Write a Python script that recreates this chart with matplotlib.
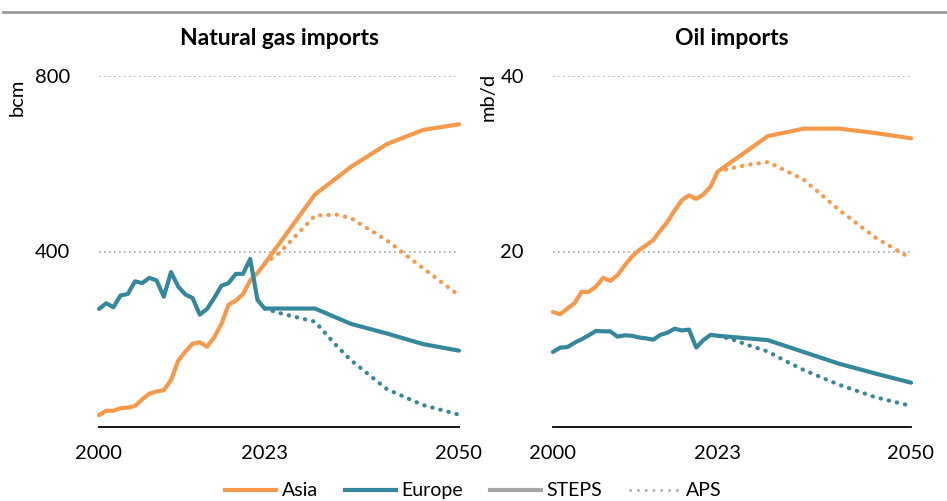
import matplotlib.pyplot as plt
from matplotlib.lines import Line2D

plt.rcParams['font.family'] = ['Lato', 'DejaVu Sans']

ORANGE = '#F7994A'
TEAL = '#35889B'
GREY = '#A6A6A6'

hist_years = list(range(2000, 2024))

# natural gas imports, bcm
gas_asia_hist = [27, 37, 37, 43, 44, 48, 63, 76, 81, 84, 107, 151, 172, 190, 193, 183,
                 204, 235, 279, 288, 303, 334, 351, 372]
gas_europe_hist = [269, 282, 273, 300, 303, 332, 328, 340, 334, 297, 353, 320, 302, 294,
                   256, 269, 294, 322, 328, 349, 349, 383, 290, 270]

proj_years = [2023, 2030, 2035, 2040, 2045, 2050]
gas_asia_steps = [372, 530, 593, 645, 677, 690]
gas_europe_steps = [270, 270, 235, 213, 189, 174]

aps_years = [2023, 2025, 2027, 2030, 2033, 2035, 2040, 2045, 2050]
gas_asia_aps = [372, 396, 430, 482, 484, 476, 425, 362, 300]
gas_europe_aps = [270, 260, 252, 240, 185, 152, 86, 50, 28]

# oil imports, mb/d
oil_asia_hist = [13.1, 12.85, 13.5, 14.1, 15.4, 15.4, 16.0, 17.0, 16.65, 17.3, 18.4, 19.4,
                 20.15, 20.7, 21.3, 22.4, 23.4, 24.7, 25.85, 26.4, 26.0, 26.5, 27.4, 29.1]
oil_europe_hist = [8.55, 9.05, 9.1, 9.6, 10.0, 10.45, 10.95, 10.9, 10.9, 10.3, 10.45, 10.4,
                   10.2, 10.1, 9.95, 10.5, 10.75, 11.2, 11.0, 11.1, 9.05, 9.9, 10.5, 10.4]

oil_asia_steps = [29.1, 33.15, 34.0, 34.0, 33.5, 32.9]
oil_europe_steps = [10.4, 9.9, 8.55, 7.2, 6.1, 5.05]

oil_asia_aps = [29.1, 29.5, 29.85, 30.2, 29.0, 28.2, 24.7, 21.6, 19.2]
oil_europe_aps = [10.4, 10.0, 9.4, 8.6, 7.3, 6.5, 4.8, 3.4, 2.4]

panels = [
    ("Natural gas imports", "bcm", 800, gas_asia_hist, gas_europe_hist,
     gas_asia_steps, gas_europe_steps, gas_asia_aps, gas_europe_aps),
    ("Oil imports", "mb/d", 40, oil_asia_hist, oil_europe_hist,
     oil_asia_steps, oil_europe_steps, oil_asia_aps, oil_europe_aps),
]

W, H = 947, 501
fig = plt.figure(figsize=(W / 100, H / 100), dpi=100)

axes_px = [(99, 459), (553, 911)]
label_x = [17, 488]
bottom_px, top_px = 427, 76

dots = (0, (0.1, 1.9))

for (left, right), lx, panel in zip(axes_px, label_x, panels):
    title, unit, ymax, a_hist, e_hist, a_steps, e_steps, a_aps, e_aps = panel
    ax = fig.add_axes([left / W, 1 - bottom_px / H, (right - left) / W, (bottom_px - top_px) / H])

    ax.plot(aps_years, a_aps, color=ORANGE, lw=3, ls=dots, dash_capstyle='round', clip_on=False)
    ax.plot(aps_years, e_aps, color=TEAL, lw=3, ls=dots, dash_capstyle='round', clip_on=False)
    ax.plot(hist_years + proj_years[1:], a_hist + a_steps[1:], color=ORANGE, lw=3,
            solid_joinstyle='round', solid_capstyle='round', clip_on=False)
    ax.plot(hist_years + proj_years[1:], e_hist + e_steps[1:], color=TEAL, lw=3,
            solid_joinstyle='round', solid_capstyle='round', clip_on=False)

    ax.set_xlim(2000, 2050)
    ax.set_ylim(0, ymax)
    ax.set_xticks([2000, 2023, 2050])
    ax.set_yticks([ymax / 2, ymax])
    ax.set_yticklabels([f"{ymax // 2:g}", f"{ymax:g}"])
    ax.tick_params(length=0, labelsize=14.5)
    ax.tick_params(axis='y', pad=21)
    ax.tick_params(axis='x', pad=13)
    for s in ['top', 'right', 'left']:
        ax.spines[s].set_visible(False)
    ax.spines['bottom'].set_linewidth(1.3)
    ax.spines['bottom'].set_color('black')
    ax.grid(axis='y', color=GREY, lw=1.2, ls=(0, (1, 2)))
    ax.set_axisbelow(True)
    ax.set_title(title, fontsize=16.5, fontweight='bold', pad=22)
    fig.text(lx / W, 1 - 97 / H, unit, rotation=90, ha='center', va='center', fontsize=14.5)

fig.add_artist(Line2D([3 / W, 1], [1 - 12 / H, 1 - 12 / H], color='#999999', lw=2))

handles = [
    Line2D([], [], color=ORANGE, lw=3),
    Line2D([], [], color=TEAL, lw=3),
    Line2D([], [], color=GREY, lw=3),
    Line2D([], [], color=GREY, lw=2, ls=(0, (0.1, 2.7)), dash_capstyle='round'),
]
fig.legend(handles, ["Asia", "Europe", "STEPS", "APS"], loc='center',
           bbox_to_anchor=(0.5, 0.02), ncol=4, frameon=False, fontsize=14,
           handlelength=2.6, columnspacing=1.4, handletextpad=0.3)

fig.savefig("out.png", dpi=100)
